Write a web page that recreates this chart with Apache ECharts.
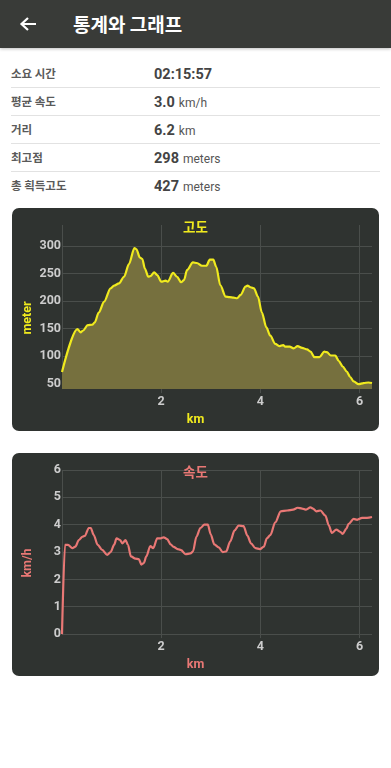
<!DOCTYPE html>
<html>
<head>
<meta charset="utf-8">
<script src="https://cdn.jsdelivr.net/npm/echarts@6/dist/echarts.min.js"></script>
<style>
  html, body { margin:0; padding:0; background:#ffffff; width:391px; height:768px; overflow:hidden;
    font-family: Roboto, "Noto Sans CJK KR", sans-serif; }
  #bar { position:absolute; left:0; top:0; width:391px; height:48px; background:#393b38;
    box-shadow:0 1px 3px rgba(0,0,0,0.25); }
  #bar svg { position:absolute; left:19px; top:16px; }
  #bar .title { position:absolute; left:73px; top:0; line-height:48px; color:#ffffff; font-size:19px;
    font-weight:bold; font-family:"Noto Sans CJK KR", Roboto, sans-serif; }
  .row { position:absolute; left:11px; width:369px; height:27px; border-bottom:1px solid #e2e2e2; }
  .row.last { border-bottom:none; }
  .lab { position:absolute; left:0; top:0; line-height:27px; font-size:11.5px; color:#5a5a5a;
    font-family:"Noto Sans CJK KR", sans-serif; font-weight:bold; }
  .val { position:absolute; left:143px; top:0; line-height:27px; color:#444; white-space:nowrap; }
  .val b { font-size:14.5px; font-weight:bold; font-family:Roboto, sans-serif; }
  .val span { font-size:12px; font-family:Roboto, sans-serif; color:#555; margin-left:4px; }
  .panel { position:absolute; left:12px; width:367px; height:223px; background:#2f3330; border-radius:7px; }
</style>
</head>
<body>
<div id="bar">
  <svg width="18" height="16" viewBox="0 0 18 16"><path d="M17 8 H3 M9 2 L2.5 8 L9 14" stroke="#fff" stroke-width="2.2" fill="none"/></svg>
  <div class="title">통계와 그래프</div>
</div>
<div id="stats"></div>
<div class="panel" id="altPanel" style="top:208px"></div>
<div class="panel" id="spdPanel" style="top:453px"></div>
<script>
// ---- table data ----
const statLabels = ['소요 시간', '평균 속도', '거리', '최고점', '총 획득고도'];
const statValues = ['02:15:57', '3.0', '6.2', '298', '427'];
const statUnits  = ['', 'km/h', 'km', 'meters', 'meters'];

// ---- altitude data (km, meter) ----
const altKm = [0,0.31,0.375,0.42,0.52,0.61,0.66,0.74,0.85,0.98,1.05,1.15,1.25,1.35,1.46,1.50,1.57,1.62,1.67,1.74,1.78,1.86,1.92,2.0,2.09,2.13,2.24,2.32,2.4,2.46,2.52,2.64,2.72,2.82,2.91,2.98,3.05,3.11,3.19,3.30,3.38,3.46,3.53,3.6,3.7,3.74,3.8,3.87,3.95,4.03,4.12,4.2,4.3,4.39,4.46,4.5,4.59,4.67,4.75,4.84,4.94,5.01,5.09,5.19,5.29,5.34,5.42,5.51,5.58,5.66,5.74,5.81,5.88,5.98,6.08,6.18,6.25];
const altM  = [71,149,143,146,156,157,161,179,199,223,228,232,244,267,296,294,279,276,259,244,245,252,247,235,237,235,251,244,234,238,256,270,269,264,264,275,275,262,229,208,207,206,205,211,226,228,225,223,208,179,152,137,122,118,120,117,117,114,118,115,112,108,98,98,108,107,101,101,91,81,72,62,54,49,51,52,51];

// ---- speed data (km, km/h) ----
const spdKm = [0,0.06,0.12,0.21,0.27,0.34,0.41,0.46,0.54,0.58,0.64,0.72,0.81,0.91,0.98,1.05,1.1,1.17,1.22,1.28,1.33,1.39,1.48,1.55,1.6,1.65,1.7,1.78,1.84,1.92,1.99,2.05,2.12,2.19,2.25,2.33,2.4,2.49,2.59,2.64,2.71,2.79,2.87,2.94,3.0,3.07,3.16,3.24,3.31,3.39,3.48,3.56,3.66,3.74,3.81,3.9,3.99,4.07,4.13,4.2,4.3,4.41,4.54,4.66,4.75,4.84,4.91,5.01,5.06,5.13,5.21,5.31,5.38,5.44,5.53,5.61,5.66,5.73,5.78,5.88,5.95,6.05,6.15,6.25];
const spdV  = [0,3.26,3.26,3.14,3.2,3.44,3.56,3.59,3.88,3.88,3.62,3.26,3.08,2.9,3.0,3.26,3.5,3.44,3.32,3.44,3.26,2.84,2.76,2.74,2.54,2.6,2.84,3.22,3.14,3.5,3.5,3.54,3.47,3.28,3.19,3.11,3.07,2.92,2.95,3.02,3.56,3.88,4.0,4.0,3.64,3.28,3.17,3.0,3.02,3.38,3.79,3.97,3.95,3.59,3.32,3.14,3.11,3.2,3.5,3.62,4.09,4.49,4.52,4.55,4.62,4.59,4.55,4.63,4.59,4.49,4.52,4.33,3.97,3.7,3.82,3.74,3.66,3.85,4.03,4.21,4.18,4.25,4.25,4.28];

// build table
const stats = document.getElementById('stats');
statLabels.forEach((l, i) => {
  const r = document.createElement('div');
  r.className = 'row' + (i === statLabels.length - 1 ? ' last' : '');
  r.style.top = (60 + i * 28) + 'px';
  r.innerHTML = '<div class="lab">' + l + '</div><div class="val"><b>' + statValues[i] + '</b>' +
    (statUnits[i] ? '<span>' + statUnits[i] + '</span>' : '') + '</div>';
  stats.appendChild(r);
});

const FONT = 'Roboto, "Noto Sans CJK KR", sans-serif';
const GRID = '#4a4e4b';
const LABEL = '#cdcdcd';

function makeOption(cfg) {
  return {
    animation: false,
    title: { text: cfg.title, left: 'center', top: 9,
      textStyle: { color: cfg.color, fontSize: 13.5, fontWeight: 'bold', fontFamily: FONT } },
    graphic: [{
      type: 'text', x: 16, y: 110, rotation: Math.PI / 2,
      style: { text: cfg.yName, fill: cfg.color, font: 'bold 12.5px ' + FONT, align: 'center', verticalAlign: 'middle' }
    }],
    grid: { left: 50, right: 7, top: 17, bottom: 38 },
    xAxis: {
      type: 'value', min: 0, max: 6.25, interval: 2,
      name: 'km', nameLocation: 'middle', nameGap: 18,
      nameTextStyle: { color: cfg.color, fontSize: 12.5, fontWeight: 'bold', fontFamily: FONT, padding: [0, 43, 0, 0] },
      axisLine: { show: false },
      axisTick: { show: true, length: 4, lineStyle: { color: GRID } },
      axisLabel: { color: LABEL, fontSize: 12.5, fontWeight: 'bold', fontFamily: FONT, margin: 7,
        showMinLabel: false, showMaxLabel: false },
      splitLine: { show: true, showMaxLine: false, lineStyle: { color: GRID, width: 1 } }
    },
    yAxis: Object.assign({
      type: 'value',
      axisLine: { show: false },
      axisTick: { show: false },
      axisLabel: { color: LABEL, fontSize: 12.5, fontWeight: 'bold', fontFamily: FONT, margin: 1,
        verticalAlign: 'middle', padding: [0, 0, 9, 0],
        showMinLabel: cfg.showEdge, showMaxLabel: cfg.showEdge },
      splitLine: { show: true, showMinLine: cfg.showEdge, showMaxLine: cfg.showEdge, lineStyle: { color: GRID, width: 1 } }
    }, cfg.yRange),
    series: [Object.assign({
      type: 'line', data: cfg.data, showSymbol: false, smooth: 0.3, smoothMonotone: 'x',
      lineStyle: { color: cfg.color, width: 2.2 }
    }, cfg.area ? { areaStyle: { color: '#76703e', opacity: 1, origin: 'start' } } : {})]
  };
}

const altChart = echarts.init(document.getElementById('altPanel'), null, { renderer: 'canvas' });
altChart.setOption(makeOption({
  title: '고도', color: '#f0ea1e', yName: 'meter', showEdge: false, area: true,
  yRange: { min: 40, max: 338, splitNumber: 6 },
  data: altKm.map((k, i) => [k, altM[i]])
}));

const spdChart = echarts.init(document.getElementById('spdPanel'), null, { renderer: 'canvas' });
spdChart.setOption(makeOption({
  title: '속도', color: '#e97875', yName: 'km/h', showEdge: true, area: false,
  yRange: { min: 0, max: 6, interval: 1 },
  data: spdKm.map((k, i) => [k, spdV[i]])
}));
</script>
</body>
</html>
